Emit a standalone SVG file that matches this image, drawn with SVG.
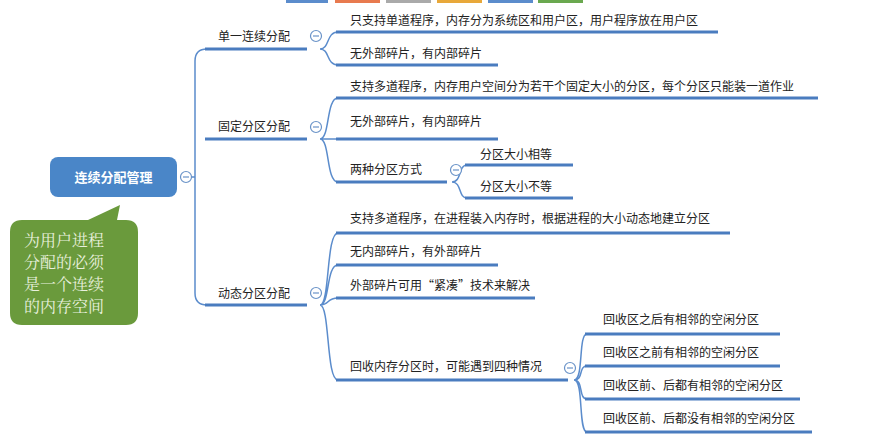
<svg xmlns="http://www.w3.org/2000/svg" width="886" height="436" viewBox="0 0 886 436">
<style>
.u{stroke:#4a7cbf;stroke-width:3;fill:none}
.c{stroke:#5b8ccc;stroke-width:1.5;fill:none}
.t{font-family:"Noto Sans CJK SC",sans-serif;font-size:12px;fill:#222}
.o{fill:#fff;stroke:#6a93c8;stroke-width:1.2}
.m{stroke:#6a93c8;stroke-width:1.2}
</style>
<defs>
<g id="col"><circle r="5.5" class="o"/><line x1="-3" x2="3" class="m"/></g>
</defs>
<rect width="886" height="436" fill="#fff"/>
<g id="tabs">
<rect x="286" y="0" width="42" height="3" fill="#5b8ccc"/><rect x="335" y="0" width="45" height="3" fill="#e87a4f"/><rect x="386" y="0" width="45" height="3" fill="#aaa"/><rect x="437" y="0" width="45" height="3" fill="#e8a83a"/><rect x="488" y="0" width="45" height="3" fill="#5b8ccc"/><rect x="538" y="0" width="45" height="3" fill="#6aa84f"/>
</g>
<g id="connectors">
<path class="c" d="M191,177 H195 M207,49 Q195,49 195,61 V293 Q195,305 207,305"/>
<path class="c" d="M320,49 C330,49 326,32 338,32 M320,49 C330,49 326,65 338,65"/>
<path class="c" d="M320,139 C330,139 326,98 338,98 M320,139 H338 M320,139 C330,139 326,182 338,182"/>
<path class="c" d="M452,182 C462,182 458,165 467,165 M452,182 C462,182 458,198 467,198"/>
<path class="c" d="M320,305 C330,305 326,233 338,233 M320,305 C330,305 326,265 338,265 M320,305 C330,305 326,298 338,298 M320,305 C330,305 326,380 338,380"/>
<path class="c" d="M574,380 C584,380 578,334 587,334 M574,380 C584,380 578,366 587,366 M574,380 C584,380 578,399 587,399 M574,380 C584,380 578,432 587,432"/>
</g>
<g id="root">
<rect x="50" y="157" width="127" height="40" rx="8" fill="#4a86c8"/>
<text x="113.5" y="182" text-anchor="middle" font-family="Noto Sans CJK SC,sans-serif" font-size="13" font-weight="bold" fill="#fff">连续分配管理</text>
<use href="#col" x="186" y="177"/>
</g>
<g id="callout">
<path d="M22,220 H88 L120,205 L117,220 H126 Q138,220 138,232 V313 Q138,325 126,325 H22 Q10,325 10,313 V232 Q10,220 22,220 Z" fill="#6a9a3c"/>
<g font-family="Noto Serif CJK SC,Noto Sans CJK SC,serif" font-size="16" fill="#e8f0dc">
<text x="24" y="246">为用户进程</text><text x="24" y="268">分配的必须</text><text x="24" y="290">是一个连续</text><text x="24" y="312">的内存空间</text>
</g>
</g>
<g id="n1"><path class="u" d="M205,49 H307"/><text class="t" x="218" y="41">单一连续分配</text><use href="#col" x="316" y="36"/></g>
<g id="n2"><path class="u" d="M205,139 H307"/><text class="t" x="218" y="131">固定分区分配</text><use href="#col" x="316" y="127"/></g>
<g id="n3"><path class="u" d="M205,305 H307"/><text class="t" x="218" y="298">动态分区分配</text><use href="#col" x="316" y="293"/></g>
<g id="n1a"><path class="u" d="M336,32 H718"/><text class="t" x="350" y="25">只支持单道程序，内存分为系统区和用户区，用户程序放在用户区</text></g>
<g id="n1b"><path class="u" d="M336,65 H498"/><text class="t" x="350" y="58">无外部碎片，有内部碎片</text></g>
<g id="n2a"><path class="u" d="M336,98 H818"/><text class="t" x="350" y="91">支持多道程序，内存用户空间分为若干个固定大小的分区，每个分区只能装一道作业</text></g>
<g id="n2b"><path class="u" d="M336,139 H498"/><text class="t" x="350" y="126">无外部碎片，有内部碎片</text></g>
<g id="n2c"><path class="u" d="M336,182 H447"/><text class="t" x="350" y="174">两种分区方式</text><use href="#col" x="456" y="170"/></g>
<g id="n2c1"><path class="u" d="M465,165 H573"/><text class="t" x="480" y="159">分区大小相等</text></g>
<g id="n2c2"><path class="u" d="M465,198 H573"/><text class="t" x="480" y="191">分区大小不等</text></g>
<g id="n3a"><path class="u" d="M336,233 H730"/><text class="t" x="350" y="223">支持多道程序，在进程装入内存时，根据进程的大小动态地建立分区</text></g>
<g id="n3b"><path class="u" d="M336,265 H498"/><text class="t" x="350" y="256">无内部碎片，有外部碎片</text></g>
<g id="n3c"><path class="u" d="M336,298 H535"/><text class="t" x="350" y="290">外部碎片可用“紧凑”技术来解决</text></g>
<g id="n3d"><path class="u" d="M336,380 H568"/><text class="t" x="350" y="371">回收内存分区时，可能遇到四种情况</text><use href="#col" x="570" y="368"/></g>
<g id="n3d1"><path class="u" d="M585,334 H780"/><text class="t" x="603" y="324">回收区之后有相邻的空闲分区</text></g>
<g id="n3d2"><path class="u" d="M585,366 H780"/><text class="t" x="603" y="357">回收区之前有相邻的空闲分区</text></g>
<g id="n3d3"><path class="u" d="M585,399 H800"/><text class="t" x="603" y="390">回收区前、后都有相邻的空闲分区</text></g>
<g id="n3d4"><path class="u" d="M585,432 H812"/><text class="t" x="603" y="423">回收区前、后都没有相邻的空闲分区</text></g>
</svg>
